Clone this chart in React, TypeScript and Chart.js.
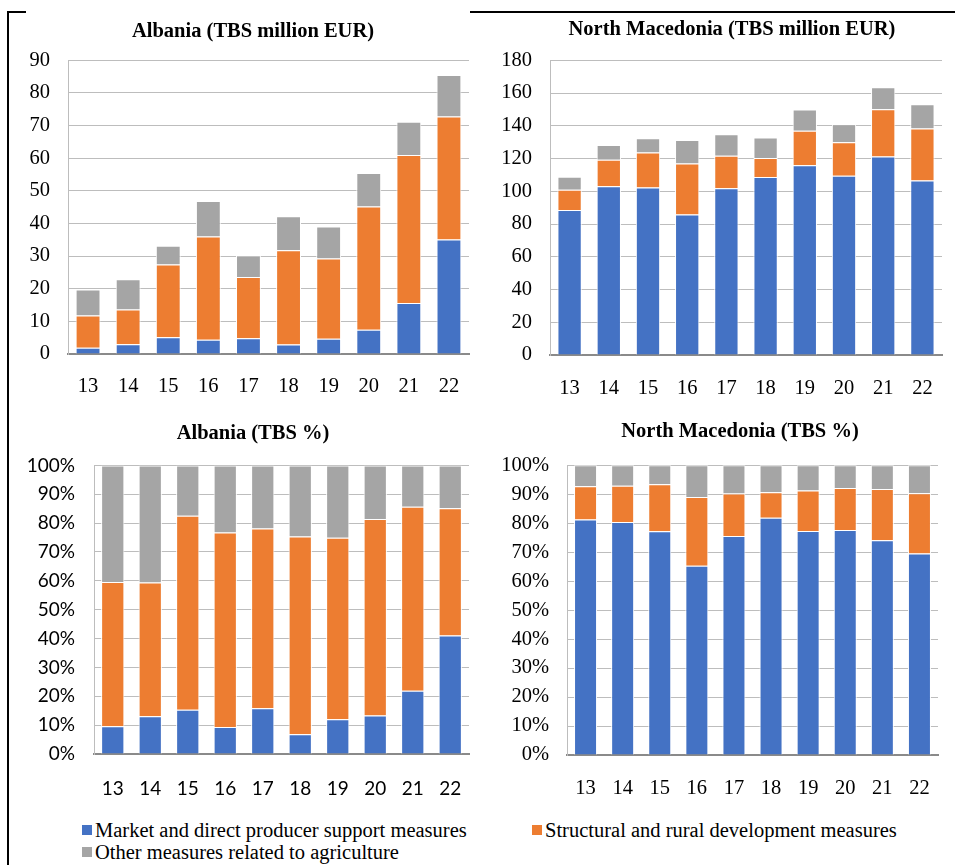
import { useEffect, useRef } from 'react';
import { Chart, registerables } from 'chart.js';

Chart.register(...registerables);

// Years 2013–2022, shown as two-digit labels
const years = ['13', '14', '15', '16', '17', '18', '19', '20', '21', '22'];

// Albania, total budgetary support (million EUR)
const albaniaMarket = [1.9, 3.0, 5.1, 4.4, 4.8, 2.9, 4.7, 7.4, 15.6, 35.1];
const albaniaStructural = [9.9, 10.6, 22.3, 31.6, 18.8, 28.9, 24.6, 37.8, 45.4, 37.7];
const albaniaOther = [8.0, 9.3, 5.8, 10.9, 6.6, 10.4, 9.8, 10.3, 10.2, 12.7];

// North Macedonia, total budgetary support (million EUR)
const macedoniaMarket = [88.5, 103.1, 102.3, 85.8, 101.9, 108.7, 115.9, 109.5, 121.2, 106.6];
const macedoniaStructural = [12.5, 16.1, 21.4, 31.1, 19.8, 11.7, 21.0, 20.4, 28.9, 31.8];
const macedoniaOther = [7.9, 9.0, 8.7, 14.4, 13.1, 12.4, 13.0, 11.1, 13.4, 14.8];

const seriesNames = [
  'Market and direct producer support measures',
  'Structural and rural development measures',
  'Other measures related to agriculture',
];
const seriesColors = ['#4472C4', '#ED7D31', '#A5A5A5'];

// Share of each measure in the yearly total, in percent
function shares(parts: number[][]): number[][] {
  return parts.map((series) =>
    series.map((v, i) => {
      const total = parts.reduce((s, p) => s + p[i], 0);
      return (v / total) * 100;
    })
  );
}

const SERIF = '"Liberation Serif", "Times New Roman", serif';
const SANS = 'Lato, Carlito, "Open Sans", sans-serif';

type Frame = { left: number; top: number; width: number; height: number };
type Inset = { left: number; top: number; right: number; bottom: number };

type PanelProps = {
  frame: Frame;
  inset: Inset;
  series: number[][];
  yMax: number;
  yStep: number;
  percent?: boolean;
  fontFamily: string;
  fontSize: number;
  xPad: number;
  yPad: number;
};

function StackedPanel(props: PanelProps) {
  const ref = useRef<HTMLCanvasElement>(null);
  useEffect(() => {
    const { inset, series, yMax, yStep, percent, fontFamily, fontSize, xPad, yPad } = props;
    const font = { family: fontFamily, size: fontSize };
    const chart = new Chart(ref.current!, {
      type: 'bar',
      data: {
        labels: years,
        datasets: series.map((data, i) => ({
          label: seriesNames[i],
          data,
          backgroundColor: seriesColors[i],
          borderColor: '#ffffff',
          borderWidth: 1,
          categoryPercentage: 1,
          barPercentage: 0.62,
        })),
      },
      options: {
        responsive: false,
        animation: false,
        layout: { padding: { left: 0, top: inset.top, right: inset.right, bottom: 0 } },
        plugins: { legend: { display: false }, tooltip: { enabled: false }, title: { display: false } },
        scales: {
          x: {
            stacked: true,
            grid: { display: false },
            border: { color: '#8a8a8a', width: 2 },
            ticks: { font, color: '#000', padding: xPad, maxRotation: 0, autoSkip: false },
            afterFit: (s: any) => {
              s.height = inset.bottom;
            },
          },
          y: {
            stacked: true,
            min: 0,
            max: yMax,
            grid: {
              drawTicks: false,
              color: (c: any) => (c.tick && c.tick.value === 0 ? 'rgba(0,0,0,0)' : '#bdbdbd'),
              lineWidth: 1,
            },
            border: { color: '#bdbdbd', width: 1 },
            ticks: {
              stepSize: yStep,
              font,
              color: '#000',
              padding: yPad,
              callback: (v: any) => (percent ? `${v}%` : `${v}`),
            },
            afterFit: (s: any) => {
              s.width = inset.left;
            },
          },
        },
      },
    } as any);
    return () => chart.destroy();
  }, []);
  const { frame } = props;
  return (
    <canvas
      ref={ref}
      width={frame.width}
      height={frame.height}
      style={{
        position: 'absolute',
        left: frame.left,
        top: frame.top,
        width: frame.width,
        height: frame.height,
      }}
    />
  );
}

function Title({ text, cx, cy }: { text: string; cx: number; cy: number }) {
  return (
    <div
      style={{
        position: 'absolute',
        left: cx - 220,
        width: 440,
        top: cy - 13,
        height: 26,
        lineHeight: '26px',
        textAlign: 'center',
        fontFamily: SERIF,
        fontWeight: 'bold',
        fontSize: 20.5,
        color: '#000',
        whiteSpace: 'nowrap',
      }}
    >
      {text}
    </div>
  );
}

function LegendItem({ i, x, cy }: { i: number; x: number; cy: number }) {
  return (
    <div
      style={{
        position: 'absolute',
        left: x,
        top: cy - 13,
        height: 26,
        lineHeight: '26px',
        display: 'flex',
        alignItems: 'center',
        fontFamily: SERIF,
        fontSize: 20.5,
        color: '#000',
        whiteSpace: 'nowrap',
      }}
    >
      <span
        style={{ display: 'inline-block', width: 10, height: 10, background: seriesColors[i], marginRight: 3 }}
      />
      <span>{seriesNames[i]}</span>
    </div>
  );
}

export default function App() {
  const albaniaEur = [albaniaMarket, albaniaStructural, albaniaOther];
  const macedoniaEur = [macedoniaMarket, macedoniaStructural, macedoniaOther];
  return (
    <div
      style={{
        position: 'absolute',
        left: 0,
        top: 0,
        width: 955,
        height: 865,
        overflow: 'hidden',
        background: '#ffffff',
      }}
    >
      <StackedPanel
        frame={{ left: 10, top: 30, width: 470, height: 370 }}
        inset={{ left: 58, top: 16, right: 11, bottom: 46 }}
        series={albaniaEur}
        yMax={90}
        yStep={10}
        fontFamily={SERIF}
        fontSize={20.5}
        xPad={12}
        yPad={18}
      />
      <StackedPanel
        frame={{ left: 480, top: 30, width: 470, height: 370 }}
        inset={{ left: 70, top: 16, right: 8, bottom: 45 }}
        series={macedoniaEur}
        yMax={180}
        yStep={20}
        fontFamily={SERIF}
        fontSize={20.5}
        xPad={13}
        yPad={18}
      />
      <StackedPanel
        frame={{ left: 10, top: 435, width: 470, height: 365 }}
        inset={{ left: 84, top: 14, right: 11, bottom: 46 }}
        series={shares(albaniaEur)}
        yMax={100}
        yStep={10}
        percent
        fontFamily={SANS}
        fontSize={19}
        xPad={15}
        yPad={19}
      />
      <StackedPanel
        frame={{ left: 480, top: 435, width: 470, height: 365 }}
        inset={{ left: 87, top: 14, right: 12, bottom: 45 }}
        series={shares(macedoniaEur)}
        yMax={100}
        yStep={10}
        percent
        fontFamily={SERIF}
        fontSize={20.5}
        xPad={13}
        yPad={18}
      />

      <Title text="Albania (TBS million EUR)" cx={253} cy={30} />
      <Title text="North Macedonia (TBS million EUR)" cx={732} cy={28} />
      <Title text="Albania (TBS %)" cx={253} cy={432} />
      <Title text="North Macedonia (TBS %)" cx={740} cy={430} />

      <LegendItem i={0} x={82} cy={830} />
      <LegendItem i={1} x={532} cy={830} />
      <LegendItem i={2} x={82} cy={852} />

      {/* frame lines */}
      <div style={{ position: 'absolute', left: 7, top: 11, width: 2, height: 854, background: '#000' }} />
      <div style={{ position: 'absolute', left: 7, top: 11, width: 19, height: 2, background: '#000' }} />
      <div style={{ position: 'absolute', left: 470, top: 11, width: 485, height: 2, background: '#000' }} />
    </div>
  );
}
